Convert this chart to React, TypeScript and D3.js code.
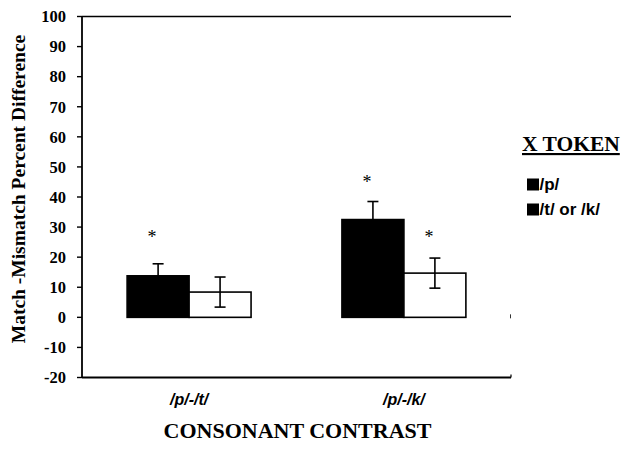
import React from "react";
import * as d3 from "d3";

const categories = ["/p/-/t/", "/p/-/k/"];
const seriesNames = ["/p/", "/t/ or /k/"];
const pValues = [13.8, 32.5];
const tkValues = [8.4, 14.7];
const pErrors = [4, 6];
const tkErrors = [5, 5];
const pStars = [27.5, 45.5];
const tkStars: (number | null)[] = [null, 27.5];
const yTicks = [100, 90, 80, 70, 60, 50, 40, 30, 20, 10, 0, -10, -20];

const W = 629;
const H = 450;
const left = 82;
const right = 511;
const top = 16.5;
const bottom = 377.5;

export default function App() {
  const y = d3.scaleLinear().domain([-20, 100]).range([bottom, top]);
  const x0 = d3
    .scaleBand<string>()
    .domain(categories)
    .range([left, right])
    .paddingInner(0.423)
    .paddingOuter(0.21);
  const x1 = d3
    .scaleBand<string>()
    .domain(seriesNames)
    .range([0, x0.bandwidth()])
    .padding(0);

  const serif = "'Liberation Serif', 'Times New Roman', serif";
  const sans = "'Liberation Sans', Arial, sans-serif";

  const seriesData = [
    { name: seriesNames[0], values: pValues, errs: pErrors, stars: pStars, fill: "#000" },
    { name: seriesNames[1], values: tkValues, errs: tkErrors, stars: tkStars, fill: "#fff" },
  ];

  return (
    <svg
      width={W}
      height={H}
      style={{ position: "absolute", left: 0, top: 0, background: "#fff" }}
    >
      {/* frame */}
      <line x1={left} x2={right} y1={top} y2={top} stroke="#000" strokeWidth={1.6} />
      <line x1={left} x2={left} y1={top} y2={bottom} stroke="#000" strokeWidth={1.8} />
      <line x1={left} x2={right} y1={bottom} y2={bottom} stroke="#000" strokeWidth={1.8} />
      <line x1={right} x2={right} y1={bottom} y2={bottom - 3} stroke="#000" strokeWidth={1.2} />
      <line x1={right - 0.5} x2={right - 0.5} y1={y(0) - 3} y2={y(0) + 1} stroke="#000" strokeWidth={0.8} />

      {/* y ticks */}
      {yTicks.map((t) => (
        <g key={t}>
          <line x1={left - 5} x2={left} y1={y(t)} y2={y(t)} stroke="#000" strokeWidth={1.4} />
          <text
            x={66}
            y={y(t)}
            dy="0.35em"
            textAnchor="end"
            fontFamily={serif}
            fontWeight="bold"
            fontSize={16.5}
            fill="#000"
          >
            {t}
          </text>
        </g>
      ))}

      {/* bars */}
      {categories.map((c, i) => (
        <g key={c} transform={`translate(${x0(c)},0)`}>
          {seriesData.map((s) => {
            const bx = x1(s.name)!;
            const bw = x1.bandwidth();
            const v = s.values[i];
            const e = s.errs[i];
            const cx = bx + bw / 2;
            const star = s.stars[i];
            return (
              <g key={s.name}>
                <rect
                  x={bx}
                  y={y(v)}
                  width={bw}
                  height={y(0) - y(v)}
                  fill={s.fill}
                  stroke="#000"
                  strokeWidth={1.6}
                />
                <line x1={cx} x2={cx} y1={y(v + e)} y2={y(v - e)} stroke="#000" strokeWidth={1.6} />
                <line x1={cx - 5.5} x2={cx + 5.5} y1={y(v + e)} y2={y(v + e)} stroke="#000" strokeWidth={1.6} />
                <line x1={cx - 5.5} x2={cx + 5.5} y1={y(v - e)} y2={y(v - e)} stroke="#000" strokeWidth={1.6} />
                {star !== null && (
                  <text
                    x={cx - 6}
                    y={y(star) + 8}
                    textAnchor="middle"
                    fontFamily={serif}
                    fontSize={18}
                    fill="#000"
                  >
                    *
                  </text>
                )}
              </g>
            );
          })}
        </g>
      ))}

      {/* x category labels */}
      {categories.map((c) => (
        <text
          key={c}
          x={x0(c)! + x0.bandwidth() / 2}
          y={405}
          textAnchor="middle"
          fontFamily={sans}
          fontWeight="bold"
          fontStyle="italic"
          fontSize={16}
          fill="#000"
        >
          {c}
        </text>
      ))}

      {/* x title */}
      <text
        x={297.5}
        y={438}
        textAnchor="middle"
        fontFamily={serif}
        fontWeight="bold"
        fontSize={22}
        fill="#000"
      >
        CONSONANT CONTRAST
      </text>

      {/* y title */}
      <text
        transform={`translate(25,189) rotate(-90)`}
        textAnchor="middle"
        fontFamily={serif}
        fontWeight="bold"
        fontSize={19.5}
        fill="#000"
      >
        Match -Mismatch Percent Difference
      </text>

      {/* legend */}
      <text
        x={522}
        y={151}
        fontFamily={serif}
        fontWeight="bold"
        fontSize={21.5}
        textDecoration="underline"
        fill="#000"
      >
        X TOKEN
      </text>
      {seriesNames.map((n, i) => (
        <g key={n} transform={`translate(527,${178.5 + i * 25})`}>
          <rect x={0} y={0} width={12} height={12} fill="#000" />
          <text
            x={12.5}
            y={11.5}
            fontFamily={sans}
            fontWeight="bold"
            fontSize={17}
            fill="#000"
          >
            {n}
          </text>
        </g>
      ))}
    </svg>
  );
}
